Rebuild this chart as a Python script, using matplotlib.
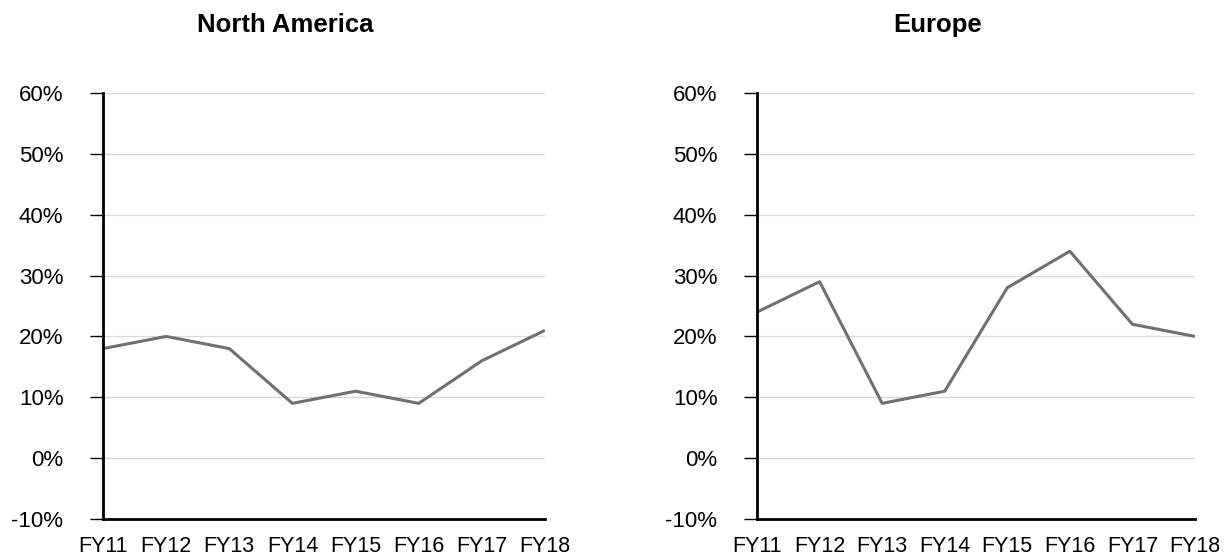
import matplotlib.pyplot as plt
from matplotlib.ticker import FuncFormatter

plt.rcParams['font.family'] = ['Liberation Sans', 'DejaVu Sans']

# Dados
anos = ['FY11', 'FY12', 'FY13', 'FY14', 'FY15', 'FY16', 'FY17', 'FY18']
north_america = [18, 20, 18, 9, 11, 9, 16, 21]
europe = [24, 29, 9, 11, 28, 34, 22, 20]
y_ticks = [-10, 0, 10, 20, 30, 40, 50, 60]

W, H = 1228, 558
fig = plt.figure(figsize=(W / 100, H / 100), dpi=100)

paineis = [
    ('North America', north_america, 103, 545, 285),
    ('Europe', europe, 757, 1195, 938),
]

for titulo, valores, x0, x1, xt in paineis:
    ax = fig.add_axes([x0 / W, 1 - 519 / H, (x1 - x0) / W, (519 - 93) / H])
    x = range(len(anos))
    ax.plot(x, valores, color='#707070', linewidth=2.2, solid_capstyle='butt')
    ax.set_xlim(0, len(anos) - 1)
    ax.set_ylim(-10, 60)
    ax.set_xticks(list(x))
    ax.set_xticklabels(anos, fontsize=15.5)
    ax.set_yticks(y_ticks)
    ax.yaxis.set_major_formatter(FuncFormatter(lambda v, p: f'{v:.0f}%'))
    ax.tick_params(axis='y', direction='out', length=9.5, width=1, pad=19,
                   labelsize=16, color='black')
    ax.tick_params(axis='x', length=0, pad=12)
    ax.grid(axis='y', color='#d9d9d9', linewidth=1)
    ax.set_axisbelow(True)
    for s in ['top', 'right']:
        ax.spines[s].set_visible(False)
    for s in ['left', 'bottom']:
        ax.spines[s].set_linewidth(2)
        ax.spines[s].set_color('black')
    fig.text(xt / W, 1 - 32 / H, titulo, ha='center', va='baseline',
             fontsize=18.5, fontweight='bold')

plt.savefig('out.png', dpi=100)
